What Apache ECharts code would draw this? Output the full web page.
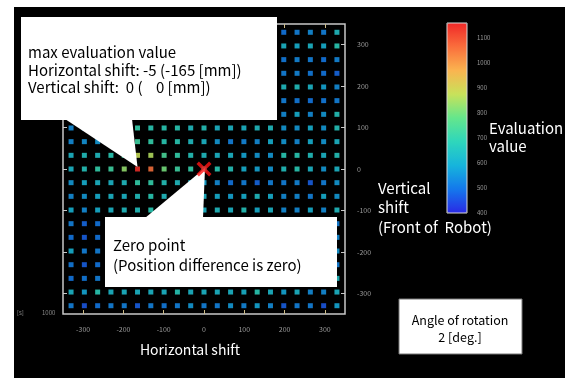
<!DOCTYPE html>
<html>
<head>
<meta charset="utf-8">
<script src="https://cdn.jsdelivr.net/npm/echarts@6/dist/echarts.min.js"></script>
<style>
  html, body { margin: 0; padding: 0; background: #fff; }
  #chart { width: 565px; height: 378px; }
</style>
</head>
<body>
<div id="chart"></div>
<script>
// Grid of evaluated shifts: 21 x 21 positions, one step = 33 mm.
const stepMm = 33;
const horizontalSteps = [-10, -9, -8, -7, -6, -5, -4, -3, -2, -1, 0, 1, 2, 3, 4, 5, 6, 7, 8, 9, 10];
const verticalSteps   = [10, 9, 8, 7, 6, 5, 4, 3, 2, 1, 0, -1, -2, -3, -4, -5, -6, -7, -8, -9, -10];

// Evaluation values, one row per vertical step (left -> right = horizontal step -10 .. 10)
const rowP10 = [560, 540, 600, 520, 580, 540, 620, 560, 520, 580, 600, 540, 560, 520, 600, 540, 500, 520, 540, 520, 640];
const rowP9  = [600, 620, 580, 640, 600, 560, 620, 640, 600, 580, 620, 600, 640, 620, 600, 620, 620, 600, 620, 600, 680];
const rowP8  = [520, 540, 500, 560, 520, 540, 560, 520, 540, 500, 540, 520, 560, 540, 520, 500, 510, 530, 520, 500, 530];
const rowP7  = [540, 520, 560, 540, 580, 560, 540, 560, 520, 540, 560, 540, 520, 540, 560, 520, 520, 530, 510, 500, 480];
const rowP6  = [620, 600, 640, 620, 660, 640, 620, 640, 660, 620, 640, 600, 620, 640, 620, 600, 640, 650, 620, 580, 540];
const rowP5  = [520, 500, 540, 520, 560, 540, 520, 540, 560, 520, 540, 520, 500, 520, 540, 520, 520, 510, 500, 510, 520];
const rowP4  = [560, 540, 580, 600, 620, 640, 660, 620, 600, 580, 600, 580, 560, 580, 600, 560, 540, 600, 540, 560, 660];
const rowP3  = [540, 560, 600, 620, 650, 700, 680, 680, 680, 640, 660, 620, 620, 620, 640, 640, 560, 560, 600, 560, 660];
const rowP2  = [540, 550, 560, 600, 620, 720, 700, 680, 680, 640, 620, 560, 520, 530, 540, 600, 560, 540, 600, 560, 620];
const rowP1  = [620, 650, 640, 680, 720, 880, 860, 740, 700, 660, 640, 620, 620, 580, 560, 560, 680, 680, 650, 620, 660];
const row0   = [620, 660, 700, 720, 830, 1150, 1060, 800, 720, 700, 680, 680, 660, 600, 580, 560, 650, 680, 620, 560, 620];
const rowM1  = [560, 600, 620, 620, 640, 700, 700, 660, 640, 620, 580, 540, 500, 520, 480, 520, 520, 530, 470, 520, 560];
const rowM2  = [540, 560, 600, 620, 620, 650, 680, 640, 620, 600, 620, 600, 580, 600, 640, 600, 540, 540, 520, 600, 560];
const rowM3  = [600, 540, 600, 620, 640, 650, 680, 640, 620, 600, 620, 640, 620, 660, 600, 620, 540, 540, 600, 540, 640];
const rowM4  = [520, 480, 500, 540, 520, 560, 540, 520, 540, 560, 520, 540, 560, 520, 540, 560, 520, 540, 560, 520, 520];
const rowM5  = [500, 470, 500, 520, 500, 540, 520, 500, 520, 540, 500, 520, 540, 500, 520, 540, 500, 520, 540, 500, 540];
const rowM6  = [600, 520, 520, 600, 620, 580, 600, 620, 640, 600, 620, 580, 600, 620, 600, 580, 600, 620, 580, 600, 560];
const rowM7  = [510, 470, 500, 500, 520, 540, 500, 520, 540, 500, 520, 540, 500, 520, 540, 500, 520, 540, 500, 520, 520];
const rowM8  = [500, 510, 520, 540, 560, 520, 540, 560, 580, 540, 560, 520, 540, 560, 520, 540, 560, 520, 540, 560, 640];
const rowM9  = [620, 580, 680, 620, 620, 620, 620, 620, 670, 620, 620, 620, 620, 610, 680, 620, 580, 620, 540, 540, 620];
const rowM10 = [520, 460, 500, 520, 520, 470, 520, 510, 520, 560, 520, 520, 560, 530, 580, 540, 470, 520, 520, 460, 580];
const evaluationRows = [rowP10, rowP9, rowP8, rowP7, rowP6, rowP5, rowP4, rowP3, rowP2, rowP1, row0,
                        rowM1, rowM2, rowM3, rowM4, rowM5, rowM6, rowM7, rowM8, rowM9, rowM10];

// Axis ticks and labels (mm) and colour scale ticks
const xTickValues = [-300, -200, -100, 0, 100, 200, 300];
const yTickValues = [-300, -200, -100, 0, 100, 200, 300];
const scaleLabelValues = [400, 500, 600, 700, 800, 900, 1000, 1100];
const scaleTickValues = [500, 600, 700, 800, 900, 1000, 1100];
const scaleMin = 400;
const scaleMax = 1160;

// Best position found and the reference (zero) position, in steps
const maxShift = [-5, 0];
const zeroShift = [0, 0];

const FONT = '"Noto Sans CJK JP", "Noto Sans", sans-serif';

const points = [];
evaluationRows.forEach((row, r) => {
  row.forEach((val, c) => {
    points.push([horizontalSteps[c] * stepMm, verticalSteps[r] * stepMm, val]);
  });
});

const chart = echarts.init(document.getElementById('chart'), null, { renderer: 'canvas' });

const tickStyle = { color: '#cdbb88', width: 1 };
const plainNumber = v => String(v);
const smallLabel = { fontSize: 7, color: '#9a9a9a', fontFamily: FONT, formatter: plainNumber };
const noLine = { show: false, onZero: false };

const option = {
  backgroundColor: '#000',
  animation: false,
  grid: [
    { left: 63, top: 24, width: 282, height: 290, show: true, borderColor: '#c8c8c8', borderWidth: 1.5, backgroundColor: '#000' },
    { left: 447, top: 23, width: 20, height: 190, show: false }
  ],
  xAxis: [
    { gridIndex: 0, type: 'value', min: -350, max: 350, position: 'bottom',
      axisLine: noLine, splitLine: { show: false },
      axisTick: { inside: true, length: 4, customValues: xTickValues, lineStyle: tickStyle },
      axisLabel: Object.assign({ customValues: xTickValues, margin: 12 }, smallLabel) },
    { gridIndex: 0, type: 'value', min: -350, max: 350, position: 'top',
      axisLine: noLine, splitLine: { show: false },
      axisTick: { inside: true, length: 4, customValues: xTickValues, lineStyle: tickStyle },
      axisLabel: { show: false } },
    { gridIndex: 1, type: 'value', min: 0, max: 1, show: false, axisLine: noLine }
  ],
  yAxis: [
    { gridIndex: 0, type: 'value', min: -350, max: 350, position: 'right',
      axisLine: noLine, splitLine: { show: false },
      axisTick: { inside: true, length: 4, customValues: yTickValues, lineStyle: { color: '#c8c8c8' } },
      axisLabel: Object.assign({ customValues: yTickValues, margin: 12, align: 'left' }, smallLabel) },
    { gridIndex: 0, type: 'value', min: -350, max: 350, position: 'left',
      axisLine: noLine, splitLine: { show: false },
      axisTick: { inside: true, length: 4, customValues: yTickValues, lineStyle: { color: '#c8c8c8' } },
      axisLabel: { show: false } },
    { gridIndex: 1, type: 'value', min: scaleMin, max: scaleMax, position: 'right',
      axisLine: noLine, splitLine: { show: false },
      axisTick: { inside: true, length: 4, customValues: scaleTickValues, lineStyle: { color: 'rgba(255,255,255,0.8)' } },
      axisLabel: Object.assign({ customValues: scaleLabelValues, margin: 10, align: 'left' }, smallLabel, { fontSize: 6 }) },
    { gridIndex: 1, type: 'value', min: scaleMin, max: scaleMax, position: 'left',
      axisLine: noLine, splitLine: { show: false },
      axisTick: { inside: true, length: 4, customValues: scaleTickValues, lineStyle: { color: 'rgba(255,255,255,0.8)' } },
      axisLabel: { show: false } }
  ],
  visualMap: {
    type: 'continuous',
    min: scaleMin,
    max: scaleMax,
    seriesIndex: 0,
    dimension: 2,
    left: 447,
    top: 23,
    itemWidth: 20,
    itemHeight: 190,
    padding: 0,
    calculable: false,
    text: ['', ''],
    textGap: 0,
    inRange: {
      color: ['#2a2ae6', '#1478ec', '#16b4dc', '#2ed6bc', '#64e68c', '#c8e25a', '#fab450', '#fa6e3c', '#f02828']
    },
    z: 5
  },
  series: [
    { type: 'scatter', xAxisIndex: 0, yAxisIndex: 0, data: points,
      symbol: 'rect', symbolSize: 5, itemStyle: { opacity: 0.85 }, z: 2 },
    { type: 'scatter', xAxisIndex: 0, yAxisIndex: 0,
      data: [[zeroShift[0] * stepMm, zeroShift[1] * stepMm]],
      symbol: 'path://M0,1.6L1.6,0L5,3.4L8.4,0L10,1.6L6.6,5L10,8.4L8.4,10L5,6.6L1.6,10L0,8.4L3.4,5Z',
      symbolSize: 15, itemStyle: { color: '#ff1414' }, z: 30, silent: true }
  ]
};

chart.setOption(option);

// Callout pointers aim at the best point and the zero point
const maxPx = chart.convertToPixel({ seriesIndex: 0 }, [maxShift[0] * stepMm, maxShift[1] * stepMm]);
const zeroPx = chart.convertToPixel({ seriesIndex: 0 }, [zeroShift[0] * stepMm, zeroShift[1] * stepMm]);

const white = { fill: '#fff' };
const blackText = (x, y, text, size, align) => ({
  type: 'text', x: x, y: y, z: 20,
  style: { text: text, fill: '#000', font: size + 'px ' + FONT, textAlign: align || 'left', textVerticalAlign: 'middle' }
});
const whiteText = (x, y, text, size, align) => ({
  type: 'text', x: x, y: y, z: 20,
  style: { text: text, fill: '#fff', font: size + 'px ' + FONT, textAlign: align || 'left', textVerticalAlign: 'middle' }
});

const maxMm = maxShift.map(s => s * stepMm);

chart.setOption({
  graphic: [
    // page margin
    { type: 'rect', shape: { x: 0, y: 0, width: 565, height: 7 }, style: white, z: 50 },
    { type: 'rect', shape: { x: 0, y: 0, width: 14, height: 378 }, style: white, z: 50 },

    // callout: max evaluation value
    { type: 'rect', shape: { x: 21, y: 17, width: 256, height: 103 }, style: white, z: 10 },
    { type: 'polygon', shape: { points: [[65, 119], [132, 119], [maxPx[0], maxPx[1] - 2]] }, style: white, z: 10 },
    blackText(28, 52, 'max evaluation value', 15),
    blackText(28, 70, 'Horizontal shift: ' + maxShift[0] + ' (' + maxMm[0] + ' [mm])', 15),
    blackText(28, 87, 'Vertical shift:  ' + maxShift[1] + ' (    ' + maxMm[1] + ' [mm])', 15),

    // callout: zero point
    { type: 'rect', shape: { x: 105, y: 217, width: 232, height: 70 }, style: white, z: 10 },
    { type: 'polygon', shape: { points: [[145, 218], [203, 218], [zeroPx[0] + 1, zeroPx[1] - 1]] }, style: white, z: 10 },
    blackText(113, 245, 'Zero point', 15),
    blackText(113, 265, '(Position difference is zero)', 15),

    // colour scale frame and title
    { type: 'rect', shape: { x: 447, y: 23, width: 20, height: 190 }, style: { fill: null, stroke: '#d8d8d8', lineWidth: 1 }, z: 20 },
    whiteText(489, 128, 'Evaluation', 15),
    whiteText(489, 146, 'value', 15),

    // axis titles
    whiteText(378, 188, 'Vertical', 15),
    whiteText(378, 207, 'shift', 15),
    whiteText(378, 227, '(Front of  Robot)', 15),
    whiteText(190, 350, 'Horizontal shift', 14, 'center'),

    // rotation info box
    { type: 'rect', shape: { x: 399, y: 299, width: 123, height: 55 }, style: { fill: '#fff', stroke: '#777', lineWidth: 1 }, z: 10 },
    blackText(460, 320, 'Angle of rotation', 12.5, 'center'),
    blackText(460, 337, '2 [deg.]', 12.5, 'center'),

    // small scale notes at the lower left
    { type: 'text', x: 17, y: 313, z: 20, style: { text: '[s]', fill: '#8a8a8a', font: '6px ' + FONT, textVerticalAlign: 'middle' } },
    { type: 'text', x: 42, y: 313, z: 20, style: { text: '1000', fill: '#8a8a8a', font: '6px ' + FONT, textVerticalAlign: 'middle' } }
  ]
});
</script>
</body>
</html>
